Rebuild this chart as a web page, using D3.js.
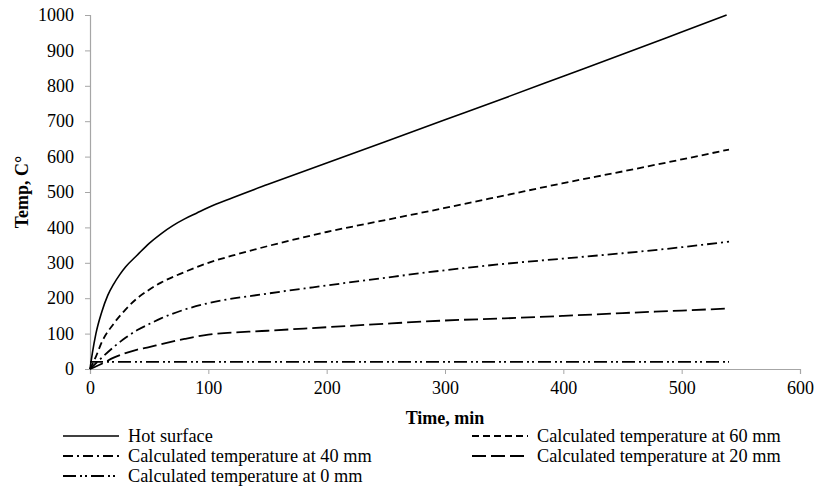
<!DOCTYPE html>
<html>
<head>
<meta charset="utf-8">
<script src="https://cdn.jsdelivr.net/npm/d3@7"></script>
<style>
  html, body { margin: 0; padding: 0; background: #fff; }
  svg { display: block; }
  svg text { font-family: "Liberation Serif", "DejaVu Serif", serif; }
</style>
</head>
<body>
<svg id="chart" width="818" height="488"></svg>
<script>
// Time (min) and temperature (°C) for each measured / calculated curve
const hotSurface = [
  [0, 0], [2, 45], [5, 100], [10, 162], [15, 208], [20, 240], [25, 266], [30, 288],
  [40, 322], [50, 355], [60, 382], [70, 405], [80, 424], [90, 440], [100, 456], [120, 483],
  [150, 521], [200, 582], [250, 643], [300, 704], [350, 765], [400, 827], [450, 889],
  [500, 952], [538, 1000]
];
const at60mm = [
  [0, 0], [5, 35], [10, 76], [20, 128], [30, 168], [40, 200], [50, 224], [60, 244],
  [80, 274], [100, 300], [120, 320], [150, 347], [200, 387], [250, 421],
  [300, 455], [350, 490], [400, 525], [450, 558], [500, 592], [540, 620]
];
const at40mm = [
  [0, 0], [10, 32], [20, 62], [30, 88], [40, 110], [50, 127], [60, 143], [80, 168],
  [100, 186], [150, 213], [200, 236], [250, 258], [300, 279], [350, 297], [400, 312],
  [450, 327], [500, 344], [540, 360]
];
const at20mm = [
  [0, 0], [10, 15], [20, 32], [30, 45], [40, 55], [50, 62], [60, 70], [80, 85],
  [100, 97], [150, 108], [200, 118], [250, 128], [300, 137], [350, 143], [400, 150],
  [450, 158], [500, 165], [540, 171]
];
const at0mm = [
  [0, 20], [100, 20], [200, 20], [300, 20], [400, 20], [540, 20]
];

const xTicks = [0, 100, 200, 300, 400, 500, 600];
const yTicks = [0, 100, 200, 300, 400, 500, 600, 700, 800, 900, 1000];

const seriesNames = [
  "Hot surface",
  "Calculated temperature at 60 mm",
  "Calculated temperature at 40 mm",
  "Calculated temperature at 20 mm",
  "Calculated temperature at 0 mm"
];

const series = [
  { name: seriesNames[0], data: hotSurface, dash: null, width: 1.6 },
  { name: seriesNames[1], data: at60mm, dash: "7,4", width: 1.8 },
  { name: seriesNames[2], data: at40mm, dash: "10,4,2,4", width: 1.8 },
  { name: seriesNames[3], data: at20mm, dash: "14,5", width: 1.8 },
  { name: seriesNames[4], data: at0mm, dash: "13,4,2,3,2,4", width: 1.8 }
];

const svg = d3.select("#chart");
const margin = { left: 90, right: 18, top: 15, bottom: 119 };
const W = 818, H = 488;
const x = d3.scaleLinear().domain([0, 600]).range([margin.left, W - margin.right]);
const y = d3.scaleLinear().domain([0, 1000]).range([H - margin.bottom, margin.top]);

const axisColor = "#a6a6a6";
const tickFont = 18;
const legendFont = 18.3;

// x axis
const gx = svg.append("g")
  .attr("transform", `translate(0,${y(0)})`)
  .call(d3.axisBottom(x).tickValues(xTicks).tickSize(5).tickPadding(7).tickFormat(d3.format("d")));
gx.attr("font-family", null);
gx.select(".domain").attr("stroke", axisColor).attr("stroke-width", 1.2);
gx.selectAll(".tick line").attr("stroke", axisColor);
gx.selectAll("text").attr("font-size", tickFont).attr("fill", "#000");

// y axis
const gy = svg.append("g")
  .attr("transform", `translate(${x(0)},0)`)
  .call(d3.axisLeft(y).tickValues(yTicks).tickSize(5).tickPadding(11).tickFormat(d3.format("d")));
gy.attr("font-family", null);
gy.select(".domain").attr("stroke", axisColor).attr("stroke-width", 1.2);
gy.selectAll(".tick line").attr("stroke", axisColor);
gy.selectAll("text").attr("font-size", tickFont).attr("fill", "#000");

// axis titles
svg.append("text")
  .attr("x", (x(0) + x(600)) / 2).attr("y", 424)
  .attr("text-anchor", "middle").attr("font-weight", "bold").attr("font-size", 18)
  .text("Time, min");
svg.append("text")
  .attr("transform", `translate(28,${(y(0) + y(1000)) / 2}) rotate(-90)`)
  .attr("text-anchor", "middle").attr("font-weight", "bold").attr("font-size", 18)
  .text("Temp, C°");

// curves
const line = d3.line().x(d => x(d[0])).y(d => y(d[1])).curve(d3.curveMonotoneX);
svg.append("g").selectAll("path").data(series).join("path")
  .attr("d", d => line(d.data))
  .attr("fill", "none")
  .attr("stroke", "#000")
  .attr("stroke-width", d => d.width)
  .attr("stroke-dasharray", d => d.dash);

// legend: two columns, three rows
const legendPos = [
  { lx: 63, row: 0 }, { lx: 472, row: 0 },
  { lx: 63, row: 1 }, { lx: 472, row: 1 },
  { lx: 63, row: 2 }
];
const rowY = [436, 456, 476];
const leg = svg.append("g").selectAll("g").data(series).join("g")
  .attr("transform", (d, i) => `translate(${legendPos[i].lx},${rowY[legendPos[i].row]})`);
leg.append("line")
  .attr("x1", 0).attr("x2", 56).attr("y1", 0).attr("y2", 0)
  .attr("stroke", "#000")
  .attr("stroke-width", d => d.width)
  .attr("stroke-dasharray", d => d.dash);
leg.append("text")
  .attr("x", 65).attr("y", 0).attr("dy", "0.33em")
  .attr("font-size", legendFont)
  .text(d => d.name);
</script>
</body>
</html>
